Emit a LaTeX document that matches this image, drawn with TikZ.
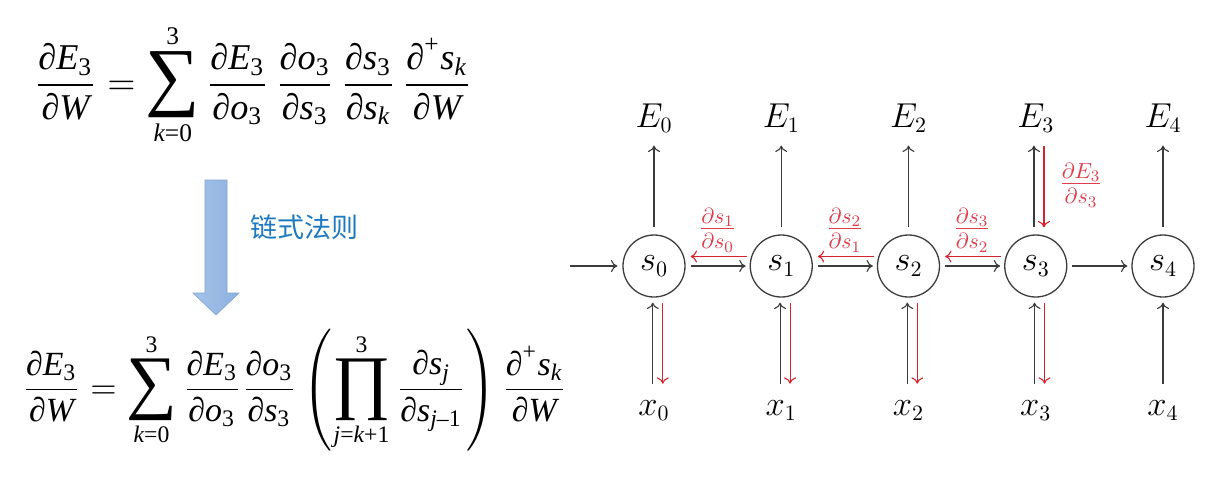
\documentclass[tikz,border=0pt]{standalone}
\usepackage{amsmath}
\usepackage{graphicx}
\usepackage{fontspec}
\newfontfamily\cjk{Noto Sans CJK SC}
\newfontfamily\tmr{Liberation Serif}[ItalicFont={Liberation Serif Italic}]
\usetikzlibrary{arrows.meta,calc}
\definecolor{lineblk}{RGB}{60,60,60}
\definecolor{bpred}{RGB}{215,35,45}
\definecolor{lblred}{RGB}{225,60,75}
\definecolor{cjkblue}{RGB}{30,122,192}
\definecolor{arrL}{RGB}{165,195,233}
\definecolor{arrR}{RGB}{140,176,222}
\definecolor{arrE}{RGB}{130,165,212}
\newcommand\pd{\text{\tmr ∂}}
\newcommand\V[1]{\text{\tmr\itshape #1}}
\newcommand\D[1]{\text{\tmr #1}}
\newcommand\tsum{\mathop{\vcenter{\hbox{\tmr\scalebox{2.1}{∑}}}}\limits}
\newcommand\tprod{\mathop{\vcenter{\hbox{\tmr\scalebox{2.1}{∏}}}}\limits}
\newsavebox\formulaone
\newsavebox\formulatwo
\tikzset{
  gfont/.style={font=\fontsize{16}{19}\selectfont},
  state/.style={circle,draw=lineblk,line width=0.65pt,minimum size=31pt,inner sep=0pt,gfont},
  lbl/.style={inner sep=0pt,anchor=base,gfont},
  blk/.style={draw=lineblk,line width=0.55pt,-{To[length=3.2pt,width=6pt]}},
  redarr/.style={draw=bpred,line width=0.55pt,-{To[length=3.2pt,width=6pt]}},
  redlbl/.style={text=lblred,inner sep=0pt,gfont},
  formula/.style={inner sep=0pt}
}
\begin{document}
\sbox\formulaone{$\displaystyle \frac{\pd\V{E}_{\D{3}}}{\pd\V{W}}=\tsum_{\V{k}\D{=}\D{0}}^{\D{3}}\frac{\pd\V{E}_{\D{3}}}{\pd\V{o}_{\D{3}}}\,\frac{\pd\V{o}_{\D{3}}}{\pd\V{s}_{\D{3}}}\,\frac{\pd\V{s}_{\D{3}}}{\pd\V{s}_{\V{k}}}\,\frac{\pd^{\D{+}}\V{s}_{\V{k}}}{\pd\V{W}}$}
\sbox\formulatwo{$\displaystyle \frac{\pd\V{E}_{\D{3}}}{\pd\V{W}}=\tsum_{\V{k}\D{=}\D{0}}^{\D{3}}\frac{\pd\V{E}_{\D{3}}}{\pd\V{o}_{\D{3}}}\frac{\pd\V{o}_{\D{3}}}{\pd\V{s}_{\D{3}}}\left(\tprod_{\V{j}\D{=}\V{k}\D{+1}}^{\D{3}}\frac{\pd\V{s}_{\V{j}}}{\pd\V{s}_{\V{j}\D{–1}}}\right)\frac{\pd^{\D{+}}\V{s}_{\V{k}}}{\pd\V{W}}$}
\begin{tikzpicture}[x=0.5pt,y=-0.5pt]
\fill[white] (0,0) rectangle (1210,484);
\path[use as bounding box] (0,0) rectangle (1210,484);

% ---- left: formulas ----
\node[formula] (f1) at (253,85) {\resizebox{219pt}{!}{\usebox\formulaone}};
\node[formula] (f2) at (294.5,390) {\resizebox{272.5pt}{!}{\usebox\formulatwo}};

% block arrow
\shade[left color=arrL,right color=arrR,draw=arrE,line width=0.3pt]
  (205,180) -- (227,180) -- (227,293) -- (239,293) -- (216,315) -- (193,293) -- (205,293) -- cycle;
\node[text=cjkblue,inner sep=0pt] (rule) at (304,227) {\cjk\fontsize{13.5}{15}\selectfont 链式法则};

% ---- right: RNN graph ----
\foreach \i in {0,...,4}{
  \pgfmathsetmacro\xx{654+127.25*\i}
  \node[state] (s\i) at (\xx,266) {$s_{\i}$};
  \node[lbl] (E\i) at (\xx,127) {$E_{\i}$};
  \node[lbl] (x\i) at (\xx,415) {$x_{\i}$};
}
\coordinate (in) at (570,266);
\draw[blk,shorten >=2.5pt] (in) -- (s0);
\foreach \i/\j in {0/1,1/2,2/3,3/4}{
  \draw[blk,shorten <=2.5pt,shorten >=2pt] (s\i) -- (s\j);
}
\foreach \i/\j in {0/1,1/2,2/3}{
  \draw[redarr,shorten <=1.5pt,shorten >=2.5pt] ([yshift=4.75pt]s\j.west) -- ([yshift=4.75pt]s\i.east);
}
% up to E
\foreach \i in {0,1,2,4}{
  \draw[blk,shorten <=3.5pt,shorten >=6.5pt] (s\i.north) -- (E\i.south);
}
\draw[blk,shorten <=3.5pt,shorten >=6.5pt] ([xshift=-0.9pt]s3.north) -- ([xshift=-0.9pt]E3.south);
\draw[redarr,shorten <=6.5pt,shorten >=3.5pt] ([xshift=4.1pt]E3.south) -- ([xshift=4.1pt]s3.north);
% from x
\foreach \i in {0,1,2,3}{
  \draw[blk,shorten <=8pt,shorten >=2.5pt] ([xshift=-0.6pt]x\i.north) -- ([xshift=-0.6pt]s\i.south);
  \draw[redarr,shorten <=2.5pt,shorten >=8pt] ([xshift=4.4pt]s\i.south) -- ([xshift=4.4pt]x\i.north);
}
\draw[blk,shorten <=8pt,shorten >=2.5pt] (x4.north) -- (s4.south);
% red labels
\node[redlbl] (d10) at (717.6,230) {$\frac{\partial s_1}{\partial s_0}$};
\node[redlbl] (d21) at (844.9,230) {$\frac{\partial s_2}{\partial s_1}$};
\node[redlbl] (d32) at (972.1,230) {$\frac{\partial s_3}{\partial s_2}$};
\node[redlbl] (dE3) at (1081,185) {$\frac{\partial E_3}{\partial s_3}$};
\end{tikzpicture}
\end{document}
